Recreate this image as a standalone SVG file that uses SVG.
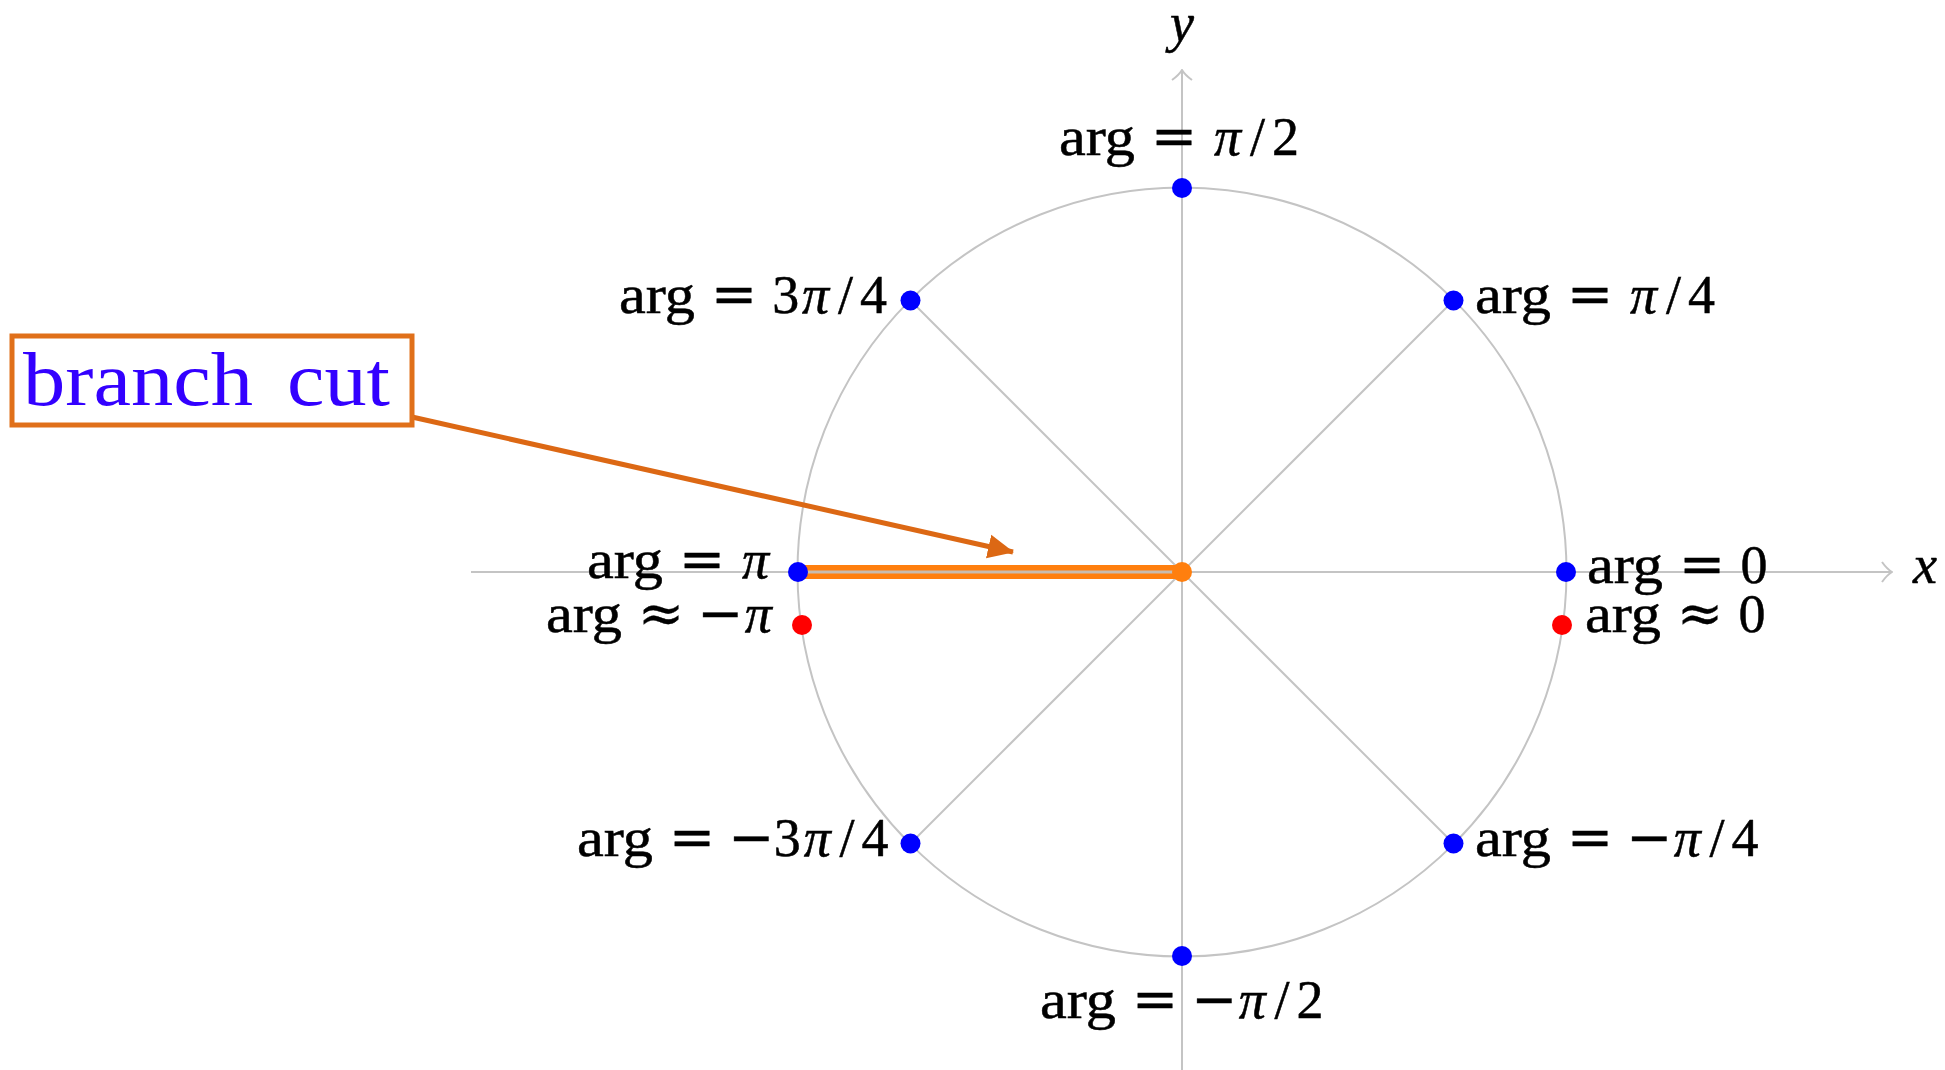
<svg xmlns="http://www.w3.org/2000/svg" width="1945" height="1070" viewBox="0 0 1945 1070">
<style>
.t{font-family:"Liberation Serif","DejaVu Serif",serif;font-size:54px;fill:#000;stroke:#000;stroke-width:0.5}
.m{text-anchor:middle}
.i{font-style:italic}
.s{font-family:"DejaVu Serif","Liberation Serif",serif;font-size:55px;text-anchor:middle;fill:#000;stroke:#000;stroke-width:0.4}
.ax{stroke:#c4c4c4;stroke-width:2;fill:none}
.blue{fill:#0000ff}
.red{fill:#ff0000}
.bc{font-family:"Liberation Serif","DejaVu Serif",serif;font-size:76px;fill:#3300ff}
</style>
<defs>
<marker id="chev" viewBox="0 0 12 22" refX="11" refY="11" markerWidth="12" markerHeight="22" markerUnits="userSpaceOnUse" orient="auto">
<path d="M1,1 Q6,8 11,11 Q6,14 1,21" fill="none" stroke="#c4c4c4" stroke-width="2"/>
</marker>
<marker id="tri" viewBox="0 0 26 26" refX="25" refY="13" markerWidth="26" markerHeight="26" markerUnits="userSpaceOnUse" orient="auto">
<path d="M0,1 L26,13 L0,25 Z" fill="#dc6814"/>
</marker>
</defs>
<rect width="1945" height="1070" fill="#fff"/>
<g id="axes">
<line class="ax" x1="471" y1="572" x2="1892" y2="572" marker-end="url(#chev)"/>
<line class="ax" x1="1182" y1="1070" x2="1182" y2="70" marker-end="url(#chev)"/>
<text class="t i m" x="1925" y="583">x</text>
<text class="t i m" x="1182" y="41">y</text>
</g>
<g id="unit-circle">
<circle class="ax" cx="1182" cy="572" r="384.5"/>
<line class="ax" x1="910.5" y1="300.5" x2="1453.5" y2="843.5"/>
<line class="ax" x1="910.5" y1="843.5" x2="1453.5" y2="300.5"/>
</g>
<g id="connectors">
<line x1="798" y1="572" x2="1182" y2="572" stroke="#ff7f0e" stroke-width="14"/>
<line x1="798" y1="572" x2="1182" y2="572" stroke="#c9bcae" stroke-width="3"/>
<line x1="412" y1="417" x2="1013" y2="552" stroke="#dc6814" stroke-width="5" marker-end="url(#tri)"/>
</g>
<g id="branch-cut-label">
<rect x="12" y="336" width="400" height="89" fill="#fff" stroke="#e0701a" stroke-width="5"/>
<text class="bc" x="23" y="405" textLength="230" lengthAdjust="spacingAndGlyphs">branch</text>
<text class="bc" x="287" y="405" textLength="103" lengthAdjust="spacingAndGlyphs">cut</text>
</g>
<g id="points">
<circle cx="1182" cy="572" r="10" fill="#ff7f0e"/>
<circle class="blue" cx="1566" cy="572" r="10"/>
<circle class="blue" cx="1453.5" cy="300.5" r="10"/>
<circle class="blue" cx="1182" cy="188" r="10"/>
<circle class="blue" cx="910.5" cy="300.5" r="10"/>
<circle class="blue" cx="798" cy="572" r="10"/>
<circle class="blue" cx="910.5" cy="843.5" r="10"/>
<circle class="blue" cx="1182" cy="956" r="10"/>
<circle class="blue" cx="1453.5" cy="843.5" r="10"/>
<circle class="red" cx="1562" cy="625" r="10"/>
<circle class="red" cx="802" cy="625" r="10"/>
</g>
<g id="label-0" transform="translate(1587,583)">
<text class="t" x="0" textLength="76" lengthAdjust="spacingAndGlyphs">arg</text>
<text class="s" x="115">=</text><text class="t m" x="167">0</text>
</g>
<g id="label-approx-0" transform="translate(1585,632)">
<text class="t" x="0" textLength="76" lengthAdjust="spacingAndGlyphs">arg</text>
<text class="s" x="115">≈</text><text class="t m" x="167">0</text>
</g>
<g id="label-pi4" transform="translate(1475,313)">
<text class="t" x="0" textLength="76" lengthAdjust="spacingAndGlyphs">arg</text>
<text class="s" x="115">=</text><text class="t i m" x="168.6">π</text><text class="t m" x="198.6">/</text><text class="t m" x="226.6">4</text>
</g>
<g id="label-pi2" transform="translate(1059,155)">
<text class="t" x="0" textLength="76" lengthAdjust="spacingAndGlyphs">arg</text>
<text class="s" x="115">=</text><text class="t i m" x="168.6">π</text><text class="t m" x="198.6">/</text><text class="t m" x="226.6">2</text>
</g>
<g id="label-3pi4" transform="translate(619,313)">
<text class="t" x="0" textLength="76" lengthAdjust="spacingAndGlyphs">arg</text>
<text class="s" x="115">=</text><text class="t m" x="166.7">3</text><text class="t i m" x="196.6">π</text><text class="t m" x="226.6">/</text><text class="t m" x="254.6">4</text>
</g>
<g id="label-pi" transform="translate(587,578)">
<text class="t" x="0" textLength="76" lengthAdjust="spacingAndGlyphs">arg</text>
<text class="s" x="115">=</text><text class="t i m" x="168.6">π</text>
</g>
<g id="label-approx-minus-pi" transform="translate(546,632)">
<text class="t" x="0" textLength="76" lengthAdjust="spacingAndGlyphs">arg</text>
<text class="s" x="115">≈</text><text class="s" x="174.4">−</text><text class="t i m" x="212.2">π</text>
</g>
<g id="label-minus-3pi4" transform="translate(577,856)">
<text class="t" x="0" textLength="76" lengthAdjust="spacingAndGlyphs">arg</text>
<text class="s" x="115">=</text><text class="s" x="174.4">−</text><text class="t m" x="210.2">3</text><text class="t i m" x="240.2">π</text><text class="t m" x="270.1">/</text><text class="t m" x="298.1">4</text>
</g>
<g id="label-minus-pi2" transform="translate(1040,1018)">
<text class="t" x="0" textLength="76" lengthAdjust="spacingAndGlyphs">arg</text>
<text class="s" x="115">=</text><text class="s" x="174.4">−</text><text class="t i m" x="212.2">π</text><text class="t m" x="242.1">/</text><text class="t m" x="270.1">2</text>
</g>
<g id="label-minus-pi4" transform="translate(1475,856)">
<text class="t" x="0" textLength="76" lengthAdjust="spacingAndGlyphs">arg</text>
<text class="s" x="115">=</text><text class="s" x="174.4">−</text><text class="t i m" x="212.2">π</text><text class="t m" x="242.1">/</text><text class="t m" x="270.1">4</text>
</g>
</svg>
